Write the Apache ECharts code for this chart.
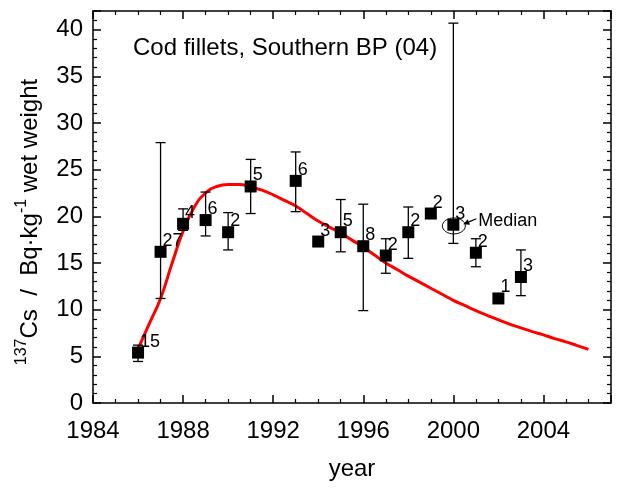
<!DOCTYPE html>
<html>
<head>
<meta charset="utf-8">
<script src="https://cdn.jsdelivr.net/npm/echarts@6/dist/echarts.min.js"></script>
<style>
html,body{margin:0;padding:0;background:#fff;}
#chart{width:620px;height:488px;}
</style>
</head>
<body>
<div id="chart"></div>
<script>
// ---- data ----
var years    = [1986, 1987, 1988, 1989, 1990, 1991, 1993, 1994, 1995, 1996, 1997, 1998, 1999, 2000, 2001, 2002, 2003];
var values   = [5.4, 16.2, 19.2, 19.6, 18.3, 23.2, 23.8, 17.3, 18.3, 16.8, 15.8, 18.3, 20.3, 19.1, 16.1, 11.2, 13.5];
var errLow   = [4.45, 11.2, 18.5, 17.9, 16.4, 20.3, 20.5, null, 16.2, 9.9, 13.9, 15.5, null, 17.1, 14.6, null, 11.5];
var errHigh  = [6.2, 27.9, 20.8, 22.6, 20.4, 26.1, 26.9, null, 21.8, 21.3, 17.6, 21.0, null, 40.7, 17.6, null, 16.4];
var counts   = ['15', '27', '4', '6', '2', '5', '6', '3', '5', '8', '2', '2', '2', '3', '2', '1', '3'];
var medianYear = 2000;

var curveX = [1986.0, 1986.5, 1987.0, 1987.5, 1988.0, 1988.5, 1989.0, 1989.5, 1990.0, 1990.5, 1991.0, 1991.5, 1992.0, 1992.5, 1993.0, 1993.5, 1994.0, 1994.5, 1995.0, 1995.5, 1996.0, 1996.5, 1997.0, 1997.5, 1998.0, 1998.5, 1999.0, 1999.5, 2000.0, 2000.5, 2001.0, 2001.5, 2002.0, 2002.5, 2003.0, 2003.5, 2004.0, 2004.5, 2005.0, 2005.5, 2006.0];
var curveY = [5.8, 8.5, 11.2, 14.9, 18.4, 21.0, 22.5, 23.2, 23.4, 23.4, 23.15, 22.8, 22.3, 21.7, 21.1, 20.3, 19.5, 18.85, 18.2, 17.45, 16.7, 15.85, 15.0, 14.3, 13.6, 12.95, 12.3, 11.65, 11.0, 10.45, 9.9, 9.4, 8.9, 8.45, 8.05, 7.65, 7.3, 6.9, 6.55, 6.15, 5.75];

var titleText = 'Cod fillets, Southern BP (04)';
var xName = 'year';

// ---- build ----
var FONT = '"Liberation Sans", Arial, sans-serif';
var pts = years.map(function (y, i) { return [y, values[i], counts[i]]; });
var errs = [];
years.forEach(function (y, i) { if (errLow[i] != null) errs.push([y, errLow[i], errHigh[i]]); });
var curve = curveX.map(function (x, i) { return [x, curveY[i]]; });
var mi = years.indexOf(medianYear);
var medianPt = [[years[mi], values[mi]]];

function xAx(pos, showLabel) {
  return {
    type: 'value', position: pos, min: 1984, max: 2007, interval: 4,
    axisLine: { show: true, onZero: false, lineStyle: { color: '#000', width: 1.5 } },
    axisTick: { show: true, inside: true, length: 8, lineStyle: { color: '#000', width: 1.5 } },
    minorTick: { show: true, splitNumber: 4, length: 4, lineStyle: { color: '#000', width: 1.2 } },
    splitLine: { show: false },
    axisLabel: { show: showLabel, showMaxLabel: false, color: '#000', fontSize: 24, fontFamily: FONT, margin: 16,
      formatter: function (v) { return String(v); } },
    name: showLabel ? xName : '', nameLocation: 'middle', nameGap: 54,
    nameTextStyle: { color: '#000', fontSize: 24, fontFamily: FONT }
  };
}
function yAx(pos, showLabel) {
  return {
    type: 'value', position: pos, min: 0, max: 42, interval: 5,
    axisLine: { show: true, onZero: false, lineStyle: { color: '#000', width: 1.5 } },
    axisTick: { show: true, inside: true, length: 8, lineStyle: { color: '#000', width: 1.5 } },
    minorTick: { show: true, splitNumber: 5, length: 4, lineStyle: { color: '#000', width: 1.2 } },
    splitLine: { show: false },
    axisLabel: { show: showLabel, showMaxLabel: false, color: '#000', fontSize: 24, fontFamily: FONT, margin: 10 }
  };
}

var chart = echarts.init(document.getElementById('chart'), null, { renderer: 'canvas' });
chart.setOption({
  animation: false,
  backgroundColor: '#fff',
  grid: { left: 93, right: 9, top: 11, bottom: 85, containLabel: false },
  xAxis: [xAx('bottom', true), xAx('top', false)],
  yAxis: [yAx('left', true), yAx('right', false)],
  graphic: [
    { type: 'text', left: 133, top: 36, style: { text: titleText, font: '24px ' + FONT, fill: '#000' } },
    { type: 'text', x: 28, y: 222, rotation: Math.PI / 2,
      style: {
        text: '{sup|137}{n|Cs  /  Bq·kg}{sup|-1}{n| wet weight}',
        align: 'center', verticalAlign: 'middle',
        rich: {
          n: { font: '24px ' + FONT, fill: '#000', verticalAlign: 'bottom', lineHeight: 28 },
          sup: { font: '16px ' + FONT, fill: '#000', verticalAlign: 'top', lineHeight: 28, padding: [0, 0, 12, 0] }
        }
      } }
  ],
  series: [
    {
      type: 'line', data: curve, smooth: 0.5, symbol: 'none', z: 3,
      lineStyle: { color: '#ff0000', width: 3 }
    },
    {
      type: 'custom', data: errs, z: 4,
      renderItem: function (params, api) {
        var x = api.value(0);
        var lo = api.coord([x, api.value(1)]);
        var hi = api.coord([x, api.value(2)]);
        var w = 5;
        var st = { stroke: '#000', lineWidth: 1.3 };
        return { type: 'group', children: [
          { type: 'line', shape: { x1: lo[0], y1: lo[1], x2: hi[0], y2: hi[1] }, style: st },
          { type: 'line', shape: { x1: lo[0] - w, y1: lo[1], x2: lo[0] + w, y2: lo[1] }, style: st },
          { type: 'line', shape: { x1: hi[0] - w, y1: hi[1], x2: hi[0] + w, y2: hi[1] }, style: st }
        ] };
      }
    },
    {
      type: 'scatter', data: pts, symbol: 'rect', symbolSize: 12, z: 5,
      itemStyle: { color: '#000', opacity: 1 },
      label: {
        show: true, position: [8, -5], align: 'left', verticalAlign: 'middle',
        formatter: function (p) { return p.value[2]; },
        color: '#000', fontSize: 18, fontFamily: FONT
      }
    },
    {
      type: 'custom', data: medianPt, z: 6,
      renderItem: function (params, api) {
        var p = api.coord([api.value(0), api.value(1)]);
        var hx = p[0] + 10, hy = p[1] - 0.5, tx = p[0] + 23, ty = p[1] - 6;
        var ang = Math.atan2(hy - ty, hx - tx);
        var L = 6, W = 3;
        var bx = hx - L * Math.cos(ang), by = hy - L * Math.sin(ang);
        var nx = -Math.sin(ang) * W, ny = Math.cos(ang) * W;
        return { type: 'group', children: [
          { type: 'ellipse', shape: { cx: p[0] + 0.5, cy: p[1] + 1.2, rx: 11.5, ry: 8 }, style: { fill: null, stroke: '#000', lineWidth: 1 } },
          { type: 'line', shape: { x1: tx, y1: ty, x2: bx, y2: by }, style: { stroke: '#000', lineWidth: 1.2 } },
          { type: 'polygon', shape: { points: [[hx, hy], [bx + nx, by + ny], [bx - nx, by - ny]] }, style: { fill: '#000' } },
          { type: 'text', x: p[0] + 25, y: p[1] - 4, style: { text: 'Median', font: '18px ' + FONT, fill: '#000', align: 'left', verticalAlign: 'middle' } }
        ] };
      }
    }
  ]
});
</script>
</body>
</html>
